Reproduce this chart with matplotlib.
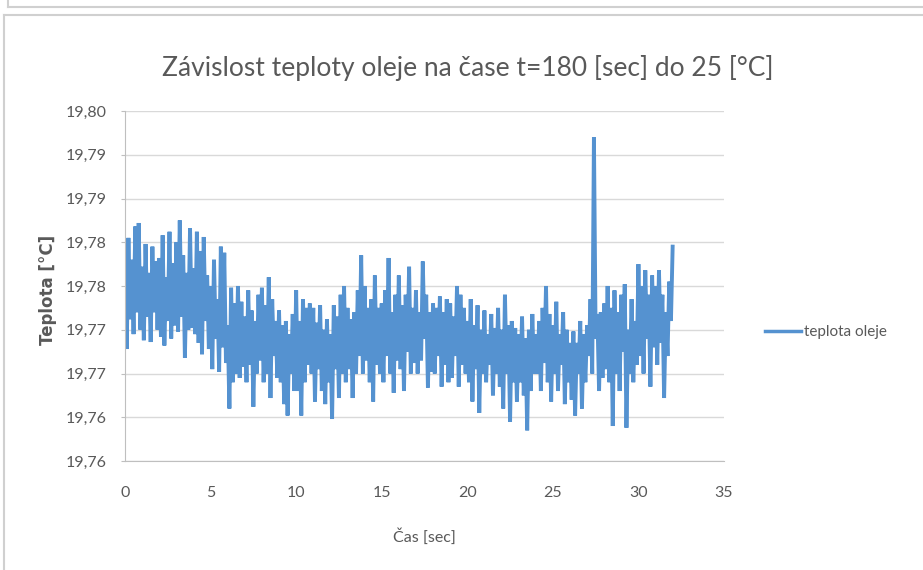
import numpy as np
import matplotlib.pyplot as plt
from matplotlib.lines import Line2D

# data - teplota oleje, vzorky po 0.1 s
sample_step = 0.1
teplota = [
    19.7840, 19.7728, 19.7855, 19.7762, 19.7830, 19.7745, 19.7868, 19.7770, 19.7872, 19.7750,
    19.7822, 19.7738, 19.7848, 19.7765, 19.7815, 19.7736, 19.7845, 19.7770, 19.7828, 19.7750,
    19.7832, 19.7742, 19.7858, 19.7732, 19.7810, 19.7760, 19.7862, 19.7740, 19.7826, 19.7755,
    19.7850, 19.7748, 19.7875, 19.7765, 19.7835, 19.7718, 19.7815, 19.7750, 19.7866, 19.7752,
    19.7820, 19.7745, 19.7862, 19.7735, 19.7840, 19.7722, 19.7856, 19.7760, 19.7812, 19.7728,
    19.7800, 19.7705, 19.7830, 19.7740, 19.7785, 19.7702, 19.7845, 19.7730, 19.7838, 19.7712,
    19.7755, 19.7660, 19.7798, 19.7690, 19.7780, 19.7700, 19.7800, 19.7695, 19.7782, 19.7708,
    19.7765, 19.7690, 19.7795, 19.7710, 19.7772, 19.7662, 19.7760, 19.7700, 19.7790, 19.7715,
    19.7798, 19.7690, 19.7778, 19.7700, 19.7810, 19.7672, 19.7785, 19.7720, 19.7760, 19.7695,
    19.7772, 19.7690, 19.7755, 19.7665, 19.7760, 19.7652, 19.7745, 19.7700, 19.7768, 19.7680,
    19.7795, 19.7680, 19.7760, 19.7652, 19.7785, 19.7690, 19.7775, 19.7710, 19.7780, 19.7700,
    19.7775, 19.7668, 19.7758, 19.7705, 19.7778, 19.7680, 19.7750, 19.7665, 19.7762, 19.7690,
    19.7745, 19.7648, 19.7778, 19.7705, 19.7765, 19.7672, 19.7790, 19.7700, 19.7800, 19.7690,
    19.7775, 19.7705, 19.7762, 19.7672, 19.7770, 19.7700, 19.7795, 19.7720, 19.7835, 19.7700,
    19.7800, 19.7715, 19.7775, 19.7690, 19.7785, 19.7668, 19.7812, 19.7710, 19.7775, 19.7700,
    19.7780, 19.7690, 19.7795, 19.7720, 19.7832, 19.7700, 19.7770, 19.7678, 19.7790, 19.7715,
    19.7812, 19.7705, 19.7778, 19.7680, 19.7790, 19.7725, 19.7822, 19.7700, 19.7775, 19.7712,
    19.7795, 19.7700, 19.7770, 19.7715, 19.7828, 19.7740, 19.7790, 19.7684, 19.7770, 19.7702,
    19.7780, 19.7700, 19.7775, 19.7720, 19.7788, 19.7685, 19.7770, 19.7710, 19.7785, 19.7690,
    19.7780, 19.7695, 19.7765, 19.7720, 19.7800, 19.7685, 19.7790, 19.7710, 19.7775, 19.7700,
    19.7760, 19.7690, 19.7785, 19.7668, 19.7755, 19.7705, 19.7778, 19.7655, 19.7750, 19.7700,
    19.7772, 19.7690, 19.7745, 19.7710, 19.7768, 19.7675, 19.7752, 19.7700, 19.7775, 19.7685,
    19.7750, 19.7660, 19.7790, 19.7700, 19.7755, 19.7645, 19.7760, 19.7690, 19.7752, 19.7668,
    19.7745, 19.7690, 19.7765, 19.7675, 19.7740, 19.7635, 19.7750, 19.7680, 19.7768, 19.7700,
    19.7745, 19.7700, 19.7760, 19.7680, 19.7775, 19.7712, 19.7800, 19.7690, 19.7768, 19.7668,
    19.7755, 19.7700, 19.7782, 19.7680, 19.7745, 19.7710, 19.7770, 19.7665, 19.7750, 19.7690,
    19.7735, 19.7670, 19.7748, 19.7652, 19.7735, 19.7700, 19.7760, 19.7660, 19.7745, 19.7690,
    19.7755, 19.7720, 19.7785, 19.7700, 19.7970, 19.7740, 19.7768, 19.7680, 19.7770, 19.7695,
    19.7780, 19.7705, 19.7800, 19.7690, 19.7775, 19.7640, 19.7795, 19.7700, 19.7770, 19.7680,
    19.7790, 19.7725, 19.7802, 19.7638, 19.7750, 19.7700, 19.7785, 19.7690, 19.7760, 19.7710,
    19.7825, 19.7720, 19.7800, 19.7700, 19.7818, 19.7740, 19.7790, 19.7685, 19.7812, 19.7730,
    19.7800, 19.7710, 19.7818, 19.7735, 19.7790, 19.7672, 19.7770, 19.7720, 19.7805, 19.7760,
    19.7845,
]
cas = np.arange(len(teplota)) * sample_step

x_ticks = [0, 5, 10, 15, 20, 25, 30, 35]
y_ticks = [19.760, 19.765, 19.770, 19.775, 19.780, 19.785, 19.790, 19.795, 19.800]
y_labels = ['19,76', '19,76', '19,77', '19,77', '19,78', '19,78', '19,79', '19,79', '19,80']

font = ['Lato', 'DejaVu Sans']
plt.rcParams['font.family'] = font
seda = '#595959'
modra = '#5592d0'

fig = plt.figure(figsize=(9.23, 5.70), dpi=100)
ax = fig.add_axes([125/923, 1-461/570, 599/923, 350/570])

ax.plot(cas, teplota, color=modra, lw=2.8, solid_joinstyle='miter')

ax.set_xlim(0, 35)
ax.set_ylim(19.760, 19.800)
ax.set_xticks(x_ticks)
ax.set_xticklabels([str(v) for v in x_ticks])
ax.set_yticks(y_ticks)
ax.set_yticklabels(y_labels)
ax.tick_params(axis='y', length=3, color='#bfbfbf', labelsize=11.5, labelcolor=seda, pad=10)
ax.tick_params(axis='x', length=0, labelsize=11.5, labelcolor=seda, pad=18)
ax.grid(axis='y', color='#d9d9d9', lw=1)
ax.set_axisbelow(True)
for s in ['top', 'right']:
    ax.spines[s].set_visible(False)
for s in ['left', 'bottom']:
    ax.spines[s].set_color('#bfbfbf')

fig.text(468/923, 1-68/570, 'Závislost teploty oleje na čase t=180 [sec] do 25 [°C]',
         ha='center', va='center', fontsize=19, color=seda)
ax.set_xlabel('Čas [sec]', fontsize=11.5, color=seda, labelpad=20)
fig.text(48/923, 1-290/570, 'Teplota [°C]', rotation=90, ha='center', va='center',
         fontsize=12, fontweight='bold', color=seda, family=['DejaVu Sans'])

h = Line2D([], [], color=modra, lw=2.5)
fig.legend([h], ['teplota oleje'], loc='center left', bbox_to_anchor=(757/923, 1-332/570),
           frameon=False, fontsize=11, handlelength=2.4, handletextpad=0.2, borderpad=0,
           labelcolor=seda)

# okraje okolo grafu
ramec = '#d0d0d0'
fig.add_artist(Line2D([8/923, 1], [1-7/570, 1-7/570], color=ramec, lw=1.5))
fig.add_artist(Line2D([8/923, 8/923], [1, 1-7/570], color=ramec, lw=1.5))
fig.add_artist(Line2D([4/923, 1], [1-15/570, 1-15/570], color=ramec, lw=1.5))
fig.add_artist(Line2D([4/923, 4/923], [1-15/570, 0], color=ramec, lw=1.5))

fig.savefig('out.png', dpi=100)
